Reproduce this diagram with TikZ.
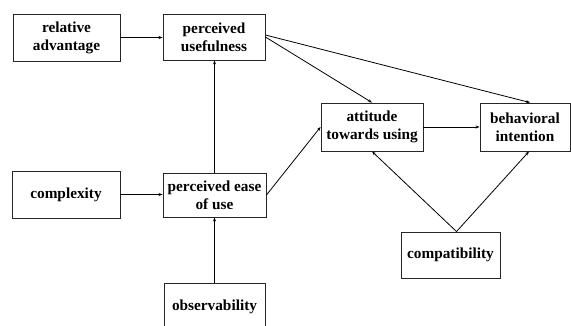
\documentclass[tikz,border=0pt]{standalone}
\usepackage{fontspec}
\setmainfont{Liberation Serif}
\usetikzlibrary{arrows.meta}
\begin{document}
\begin{tikzpicture}[x=1pt,y=-1pt,
  box/.style={draw=black!85,line width=0.9pt,inner sep=0pt,align=center,
    font=\fontsize{15.3}{18}\selectfont\bfseries},
  arr/.style={draw=black,line width=0.8pt,-{Stealth[length=4pt,width=3pt]}}]
\clip (0,0) rectangle (571,325);
\fill[white] (0,0) rectangle (571,325);
\node[box,minimum width=107pt,minimum height=47pt] (ra) at (66.5,37.5) {relative\\advantage};
\node[box,minimum width=102pt,minimum height=46pt] (pu) at (214,37) {perceived\\usefulness};
\node[box,minimum width=102pt,minimum height=48pt] (atu) at (372,127) {attitude\\towards using};
\node[box,minimum width=90pt,minimum height=48pt] (bi) at (525,127) {behavioral\\intention};
\node[box,minimum width=108pt,minimum height=47pt] (cx) at (66,194.5) {complexity};
\node[box,minimum width=103pt,minimum height=44pt] (peou) at (214.5,195) {perceived ease\\of use};
\node[box,minimum width=101pt,minimum height=48pt] (obs) at (214.5,307) {observability};
\node[box,minimum width=99pt,minimum height=46pt] (cp) at (450.5,255) {compatibility};
\draw[arr] (ra.east) -- (ra.east -| pu.west);
\draw[arr] (peou.north) -- (peou.north |- pu.south);
\draw[arr] (pu.east) -- (atu.north);
\draw[arr] ([yshift=2pt]pu.east) -- ([xshift=5pt]bi.north);
\draw[arr] (cx.east) -- (cx.east -| peou.west);
\draw[arr] (obs.north) -- (peou.south);
\draw[arr] (peou.east) -- (atu.west);
\draw[arr] (atu.east) -- (bi.west);
\coordinate (cptop) at ([xshift=6pt]cp.north);
\draw[arr] (cptop) -- (atu.south);
\draw[arr] (cptop) -- ([xshift=4pt]bi.south);
\end{tikzpicture}
\end{document}
